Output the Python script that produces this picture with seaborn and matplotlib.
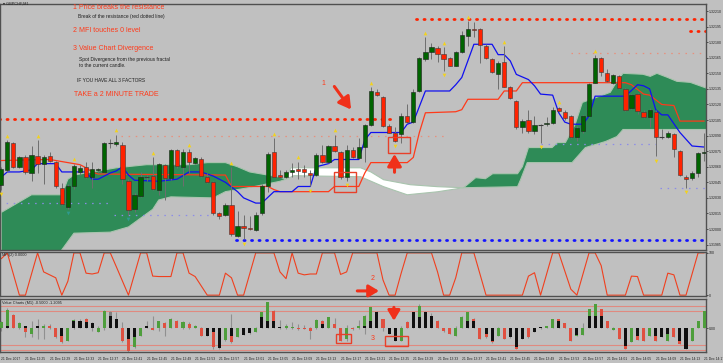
import matplotlib
matplotlib.use("Agg")
import matplotlib.pyplot as plt
import numpy as np
import pandas as pd
import seaborn as sns

# --- candles, in points above 1.32000 (1 pt = 0.00001) ---
open_pts = [42, 57, 83, 60, 69, 54, 70, 63, 70, 65, 40, 21, 41, 55, 60, 50, 57, 55, 83, 82,
            81, 46, 19, 32, 50, 51, 38, 62, 49, 76, 60, 74, 64, 67, 50, 45, 15, 14, 23, -7,
            3, 1, -1, 15, 41, 74, 52, 50, 55, 58, 58, 54, 52, 71, 65, 80, 74, 50, 76, 68,
            79, 100, 132, 127, 99, 93, 92, 109, 103, 133, 164, 171, 174, 169, 165, 157, 171, 186, 193, 193,
            176, 164, 149, 161, 137, 123, 98, 105, 94, 100, 101, 102, 117, 113, 109, 89, 94, 109, 141, 165,
            150, 141, 147, 135, 117, 130, 113, 108, 113, 89, 89, 92, 75, 50, 49, 54, 73]
high_pts = [60, 86, 84, 70, 71, 80, 86, 71, 74, 66, 44, 43, 63, 62, 65, 65, 59, 84, 87, 91,
            84, 48, 35, 55, 52, 69, 64, 63, 77, 77, 77, 77, 69, 69, 54, 46, 16, 25, 60, 17,
            14, 13, 16, 43, 74, 88, 57, 57, 64, 65, 62, 57, 73, 81, 81, 91, 75, 81, 79, 88,
            101, 137, 135, 128, 101, 98, 112, 120, 135, 166, 185, 179, 176, 175, 166, 172, 191, 200, 199, 194,
            178, 165, 162, 176, 138, 124, 106, 115, 109, 101, 108, 118, 118, 115, 110, 99, 110, 141, 168, 166,
            154, 149, 148, 136, 130, 131, 115, 117, 115, 96, 94, 93, 76, 52, 56, 74, 93]
low_pts = [38, 55, 59, 59, 53, 46, 54, 43, 65, 40, 23, 19, 39, 52, 49, 40, 54, 54, 78, 80,
           43, 14, 16, 31, 46, 38, 33, 28, 47, 59, 41, 54, 63, 50, 44, 14, 10, 13, -7, -8,
           -10, -1, -2, 14, 36, 50, 49, 49, 50, 48, 50, 41, 51, 64, 64, 74, 48, 46, 68, 67,
           65, 99, 128, 98, 93, 84, 83, 102, 102, 132, 162, 164, 161, 152, 157, 157, 170, 176, 185, 160,
           164, 150, 135, 137, 125, 96, 93, 93, 92, 83, 99, 101, 113, 105, 88, 85, 93, 108, 141, 147,
           142, 140, 135, 114, 116, 111, 107, 98, 70, 87, 88, 69, 51, 40, 47, 50, 66]
close_pts = [58, 84, 60, 69, 55, 71, 63, 69, 66, 41, 24, 41, 61, 59, 50, 58, 58, 83, 83, 84,
             48, 18, 33, 50, 50, 39, 63, 49, 76, 61, 74, 65, 68, 51, 45, 15, 13, 23, -5, 3,
             1, 0, 14, 41, 72, 50, 50, 55, 57, 56, 55, 52, 71, 65, 80, 75, 50, 76, 69, 79,
             100, 133, 129, 99, 93, 85, 109, 103, 132, 165, 171, 175, 169, 164, 157, 171, 187, 193, 192, 177,
             165, 151, 160, 137, 126, 98, 104, 94, 100, 100, 102, 115, 114, 107, 89, 97, 109, 140, 165, 151,
             143, 148, 136, 115, 129, 114, 108, 115, 89, 89, 93, 77, 52, 48, 54, 73, 74]

# Tenkan (blue) and Kijun (red) lines: (bar, pts)
blue_idx = [0, 1, 3, 5, 6, 9, 10, 14, 15, 16, 18, 19, 20, 21, 22, 26, 29, 31, 33, 35, 37, 39, 40, 42, 43,
            45, 48, 49, 51, 52, 54, 55, 59, 60, 61, 66, 67, 68, 69, 70, 74, 75, 76, 78, 81, 82, 83, 84,
            85, 87, 88, 89, 91, 92, 93, 94, 96, 97, 98, 103, 105, 106, 107, 108, 109, 110, 112, 114, 116]
blue_pts = [50, 55, 55, 57, 63, 63, 55, 55, 48, 48, 54, 56, 60, 52, 47, 46, 48, 55, 55, 51, 45, 36, 30, 25, 25,
            36, 36, 41, 41, 60, 63, 67, 67, 86, 93, 93, 101, 103, 118, 133, 133, 139, 146, 178, 178, 168, 168, 162,
            149, 144, 138, 130, 129, 112, 103, 101, 101, 109, 128, 128, 139, 138, 135, 115, 110, 110, 93, 80, 79]
red_idx = [0, 8, 10, 13, 14, 15, 16, 37, 38, 44, 45, 46, 54, 55, 59, 60, 61, 67, 68, 69, 70, 75, 76,
           77, 82, 83, 85, 86, 103, 104, 106, 107, 109, 111, 112, 116]
red_pts = [66, 67, 65, 62, 59, 55, 53, 52, 41, 41, 38, 36, 36, 41, 41, 54, 64, 64, 69, 93, 112, 113, 115,
           125, 125, 133, 133, 141, 141, 139, 130, 129, 120, 119, 104, 104]

# Kumo edges: (bar, pts)
kumo_left_top_idx = [0, 5, 10, 11, 12, 19, 24, 31, 34, 37, 39, 41, 46, 47]
kumo_left_top = [16, 33, 33, 48, 52, 59, 62, 62, 64, 64, 60, 55, 50, 48]
kumo_left_bot_idx = [47, 46, 41, 37, 35, 28, 26, 25, 21, 18, 12, 10, 9.6, 0]
kumo_left_bot = [48, 46, 40, 36, 30, 31, 28, 19, 2, -3, -4, -20, -32, -32]
kumo_white_top_idx = [47, 47.8, 59.3, 61, 63.1, 67.5, 72, 76.3]
kumo_white_top = [48, 59, 59, 55, 47.5, 42.7, 40.8, 39.8]
kumo_white_bot_idx = [76.3, 72, 68.7, 67, 63.1, 59.3, 48.3, 47]
kumo_white_bot = [39.8, 35.9, 34, 33, 40.8, 50.4, 51.4, 48]
kumo_right_top_idx = [76.3, 78.3, 79.9, 81.1, 85.2, 86, 87, 90.9, 91.8, 93.1, 94.7, 95.9, 100.5, 101.6,
                      102.6, 105.9, 107.1, 108.2, 109.9, 111.5, 113.7, 116.5]
kumo_right_top = [39.8, 49.5, 48.5, 53.3, 53.3, 60.1, 78.5, 78.5, 83.3, 83.3, 100.7, 122, 131.7, 142.3,
                  150, 149.1, 147.1, 150, 146.2, 142.3, 141.3, 135.5]
kumo_right_bot_idx = [116.5, 102.6, 101.6, 99.7, 96.4, 94.2, 86.8, 85.7, 85.2, 76.3]
kumo_right_bot = [95.9, 95.9, 89.1, 84.3, 78.5, 64, 64, 47.5, 40.8, 39.8]

# fractals
fractal_up = [1, 6, 12, 19, 25, 31, 38, 45, 49, 55, 61, 70, 73, 77, 83, 92, 98]
fractal_dn = [0, 40, 51, 57, 65, 73, 89, 108, 113]
fractal_dn_teal = [11, 21]

# dotted support / resistance levels: (pts, first bar, last bar)
lvl_red_thick = [(202.3, 68.4, 116.5), (190.7, 113.7, 116.5), (105.6, -1, 65)]
lvl_red_thin = [(90.1, 19.8, 73), (169.4, 94, 116.5)]
lvl_blue_thin = [(25.3, -1, 18), (13.7, 18.6, 35), (82.4, 89, 108), (39.8, 108.7, 116.5)]
lvl_blue_thick = [(-10.5, 38.7, 116.5)]

price_ticks = [1.31985, 1.32000, 1.32015, 1.32030, 1.32045, 1.32060, 1.32075, 1.32090,
               1.32105, 1.32120, 1.32135, 1.32150, 1.32165, 1.32180, 1.32195, 1.32210]

# MFI(2) vertices: (bar, value)
mfi_idx = [0, 1, 3, 4, 6, 7, 9, 10, 11, 12, 13, 14, 15, 16, 17, 18, 19, 21, 23, 24, 25, 26, 28, 29, 30,
           31, 32, 34, 36, 37, 38, 39, 40, 42, 45, 46, 47, 48, 49, 50, 51, 52, 53, 55, 56, 57, 58, 59, 62,
           63, 64, 65, 66, 67, 71, 72, 73, 74, 75, 76, 78, 80, 86, 87, 88, 89, 91, 92, 94, 95, 97, 98, 99,
           100, 103, 104, 105, 106, 109, 110, 111, 112, 113, 115, 116]
mfi_val = [86, 100, 0, 0, 100, 55, 41, 0, 33, 100, 100, 52, 50, 53, 100, 100, 67, 0, 100, 100, 45, 44, 44,
           100, 100, 52, 44, 0, 0, 52, 41, 0, 0, 100, 100, 55, 39, 100, 52, 48, 50, 50, 100, 100, 49, 55, 100,
           100, 100, 36, 0, 0, 52, 100, 100, 55, 0, 0, 41, 100, 100, 0, 0, 45, 53, 0, 100, 100, 14, 0, 100,
           100, 70, 0, 0, 45, 44, 0, 0, 52, 48, 0, 0, 100, 100]

# Value Chart bars: open (black), close (coloured), high, low
vc_open = [0, 0.8, 0, 0, 0.8, 0, 0.8, 0, 0, 0, -2.7, 0, 2.6, 2.6, 2.0, 1.7, 0, 0, 4.4, 3.2,
           0, -3.9, -3.3, 0, 0.8, 0, 0, 0, 0, 0, 0, 0, 0, 0, -2.7, -1.5, -7.0, 0, -2.7, 0,
           -2.4, -1.9, 0, 3.8, 2.6, 2.6, 0.5, 0, 0, 0, 0, 0, 0, 1.4, 0, 0, 0, 0, 0, 0,
           0.8, 2.6, 5.6, 0, -2.1, -4.5, 0, 0, 5.6, 3.8, 5.6, 4.4, 0, 0, 0, 0, 0, 2.6, 2.6, 0,
           -2.1, -4.5, 0, 0, -3.3, -6.9, -3.9, 0, -1.5, 0.2, 0, 0, 2.6, 0, 0, -2.4, 0, 4.4, 4.4, 4.4,
           0, 0, 0, -6.3, 0, -2.7, 0, 0, -2.7, -3.3, -2.1, 0, -4.5, -7.5, 0, 0, 0]
vc_close = [2.0, 6.4, 4.8, 1.7, -1.5, -2.1, 0.4, 0.8, 0.8, -3.3, -5.1, -4.5, 3.0, 2.0, 3.2, 1.5, -1.5, 6.2, 5.6, 2.5,
            -4.5, -8.1, -6.9, -2.7, 0.4, -0.7, 2.6, 1.7, 3.2, 2.6, 2.0, 1.4, 0.8, -2.7, -1.0, -6.9, -5.0, -4.3, -5.1, -3.3,
            -1.5, -1.0, -1.5, 5.6, 9.2, 6.2, 0.3, 0.8, 0.2, -0.4, -0.4, -1.0, 3.0, 2.6, 3.8, 1.4, -4.5, -3.9, -0.5, 0.8,
            4.4, 7.4, 4.0, 3.2, -1.9, -3.0, -4.5, 2.0, 4.0, 8.0, 4.0, 3.0, 2.6, -1.0, -2.1, -2.7, 4.0, 5.6, 3.2, -3.9,
            -3.3, -5.1, -2.7, -3.9, -2.0, -7.5, -2.5, -3.3, -1.0, 0, 0.8, 3.2, 3.2, 1.7, -4.5, -2.7, -2.4, 6.8, 8.6, 6.8,
            2.6, -0.7, -3.9, -7.5, -5.1, -4.3, -4.5, -2.7, -4.5, -2.0, -4.5, -3.3, -5.7, -6.0, -4.5, 2.6, 6.2]
vc_high = [2.6, 7.0, 5.2, 2.0, 0.8, 2.6, 3.2, 1.4, 1.4, 0, -2.2, -0.4, 3.2, 3.2, 3.5, 2.0, 0.8, 6.6, 6.2, 5.6,
           2.0, -0.4, -0.4, -0.4, 2.6, 4.4, 2.6, 2.0, 3.5, 2.8, 2.6, 2.0, 1.0, 0.5, 0, -0.4, -0.4, 0, 5.2, 0,
           0, 0, 0.5, 5.6, 9.2, 6.5, 3.0, 1.5, 2.0, 1.5, 1.0, 0.5, 3.2, 3.0, 4.0, 3.5, 0, 1.0, 0.5, 3.0,
           4.5, 7.5, 6.0, 3.2, 0, 0, 0.8, 2.6, 5.6, 8.6, 6.0, 5.5, 3.0, 0, 0, 0.8, 4.4, 5.6, 3.5, 0,
           0, 0, 0.5, 0, 0, 0, 0, 0, 0, 0.5, 0.8, 3.2, 3.2, 1.7, 0, 0, 1.7, 6.8, 8.6, 6.8,
           2.6, 0.5, 0, 0, 0, 0, 0, 0, 0, 0, 0, 0, 0, 0, 0, 2.6, 6.2]
vc_low = [-1.0, 0, 0, -0.4, -3.3, -3.3, -3.9, -3.9, -0.4, -3.5, -5.5, -4.8, -0.2, 0, 0, -1.0, -1.5, -0.7, 0, 0,
          -5.1, -8.5, -7.0, -2.7, 0, -0.7, -1.0, -3.0, 0, 0.5, -0.5, -0.5, 0, -2.7, -3.0, -7.5, -7.5, -4.5, -5.5, -3.3,
          -2.4, -2.0, -1.5, 0, 0, 0, -0.5, -0.4, -0.4, -0.6, -0.5, -3.9, -0.3, 0, 0, 0, -4.8, -4.5, -0.8, -0.4,
          -2.0, 0, 0, -1.0, -2.1, -4.5, -4.8, 0, 0, 0, 0, 0, 0, -1.5, -2.1, -2.7, 0, 0, 0, -3.9,
          -3.5, -5.5, -3.0, -4.0, -3.5, -7.5, -4.0, -3.5, -1.5, -0.5, 0, 0, 0, 0, -4.5, -2.7, -2.4, 0, 0, 0,
          0, -0.7, -3.9, -7.5, -5.1, -4.3, -4.5, -2.7, -4.5, -3.3, -4.5, -3.3, -5.7, -7.5, -4.5, 0, 0]
vc_levels = [8, 6, -6, -8]

time_labels = ["21 Dec 2017", "21 Dec 12:25", "21 Dec 12:29", "21 Dec 12:33", "21 Dec 12:37",
               "21 Dec 12:41", "21 Dec 12:45", "21 Dec 12:49", "21 Dec 12:53", "21 Dec 12:57",
               "21 Dec 13:01", "21 Dec 13:05", "21 Dec 13:09", "21 Dec 13:13", "21 Dec 13:17",
               "21 Dec 13:21", "21 Dec 13:25", "21 Dec 13:29", "21 Dec 13:33", "21 Dec 13:37",
               "21 Dec 13:41", "21 Dec 13:45", "21 Dec 13:49", "21 Dec 13:53", "21 Dec 13:57",
               "21 Dec 14:01", "21 Dec 14:05", "21 Dec 14:09", "21 Dec 14:13", "21 Dec 14:17"]

# --- styling ---
BG = '#C0C0C0'
GREEN = '#006400'
RED = '#FF2200'
TXT_RED = '#FF3A1A'
BASE = 1.32

sns.set_theme(style="white")
plt.rcParams['font.family'] = ['Liberation Sans', 'DejaVu Sans']


def px(v):
    return BASE + np.asarray(v, dtype=float) / 1e5


df = pd.DataFrame({'o': px(open_pts), 'h': px(high_pts), 'l': px(low_pts), 'c': px(close_pts)})
df['i'] = np.arange(len(df))
n = len(df)

fig = plt.figure(figsize=(7.23, 3.63), dpi=100)
fig.patch.set_facecolor(BG)
W, H = 723.0, 363.0
ax = fig.add_axes([0, 1 - 250 / H, 706 / W, 246 / H])
ax_mfi = fig.add_axes([0, 1 - 296 / H, 706 / W, 44 / H])
ax_vc = fig.add_axes([0, 1 - 352 / H, 706 / W, 53 / H])

for a in (ax, ax_mfi, ax_vc):
    a.set_facecolor(BG)
    a.set_xlim(-0.2, 116.3)
    for s in a.spines.values():
        s.set_color('#505050')
        s.set_linewidth(1.0)
    a.yaxis.tick_right()
    a.tick_params(axis='y', labelsize=2.5, length=1.5, width=0.5, pad=0.6, colors='#202020')
    a.tick_params(axis='x', length=0)
    a.set_xticks([])
    a.grid(False)

# --- main chart ---
ax.set_ylim(px(-20.2), px(216.8))
ax.set_yticks(price_ticks)
ax.set_yticklabels([f"{p:.5f}" for p in price_ticks])

ax.fill(kumo_left_top_idx + kumo_left_bot_idx, list(px(kumo_left_top)) + list(px(kumo_left_bot)),
        color='#2E8B57', ec='#A9C4AE', lw=0.8, zorder=1)
ax.fill(kumo_white_top_idx + kumo_white_bot_idx, list(px(kumo_white_top)) + list(px(kumo_white_bot)),
        color='white', ec='#A9C4AE', lw=0.8, zorder=1)
ax.fill(kumo_right_top_idx + kumo_right_bot_idx, list(px(kumo_right_top)) + list(px(kumo_right_bot)),
        color='#2E8B57', ec='#A9C4AE', lw=0.8, zorder=1)

for lvl, x0, x1 in lvl_red_thick:
    ax.plot([x0, x1], [px(lvl)] * 2, color=RED, lw=2.0, dashes=(0.4, 2.3), dash_capstyle='round', zorder=2)
for lvl, x0, x1 in lvl_red_thin:
    ax.plot([x0, x1], [px(lvl)] * 2, color='#E8907C', lw=0.9, dashes=(1.2, 4.5), zorder=2)
for lvl, x0, x1 in lvl_blue_thin:
    ax.plot([x0, x1], [px(lvl)] * 2, color='#8C8CE8', lw=0.9, dashes=(1.2, 4.5), zorder=2)
for lvl, x0, x1 in lvl_blue_thick:
    ax.plot([x0, x1], [px(lvl)] * 2, color='#1414FF', lw=2.0, dashes=(0.4, 2.3), dash_capstyle='round', zorder=2)

sns.lineplot(x=red_idx, y=px(red_pts), ax=ax, color='#FF3A1A', lw=0.9, zorder=3)
sns.lineplot(x=blue_idx, y=px(blue_pts), ax=ax, color='#1010F0', lw=0.9, zorder=3)

up = df['c'] > df['o']
dn = df['c'] < df['o']
ax.vlines(df['i'], df['l'], df['h'], color='#6E6E6E', lw=0.7, zorder=4)
body = (df['c'] - df['o']).abs().clip(lower=0.000007)
bottom = df[['o', 'c']].min(axis=1)
ax.bar(df['i'][up], body[up], bottom=bottom[up], width=0.7, color=GREEN, edgecolor='#1E1E1E', lw=0.4, zorder=5)
ax.bar(df['i'][dn], body[dn], bottom=bottom[dn], width=0.7, color=RED, edgecolor='#3A3A3A', lw=0.4, zorder=5)
flat = ~(up | dn)
ax.hlines(df['c'][flat], df['i'][flat] - 0.4, df['i'][flat] + 0.4, color='#3A3A3A', lw=0.8, zorder=5)

ax.scatter(fractal_up, df['h'].iloc[fractal_up] + 0.00004, marker='^', s=7, color='#F2D21E', lw=0, zorder=6)
ax.scatter(fractal_dn, df['l'].iloc[fractal_dn] - 0.00004, marker='v', s=7, color='#F2D21E', lw=0, zorder=6)
ax.scatter(fractal_dn_teal, df['l'].iloc[fractal_dn_teal] - 0.00004, marker='v', s=7, color='#2E9A8E', lw=0, zorder=6)

# annotations on the price chart
ax.add_patch(plt.Rectangle((54.9, px(36)), 3.7, 0.00019, fill=False, ec='#E8402A', lw=1.0, zorder=7))
ax.add_patch(plt.Rectangle((63.9, px(73.6)), 3.5, 0.000155, fill=False, ec='#E8402A', lw=1.0, zorder=7))
ax.annotate('', xy=(58.0, px(113)), xytext=(54.7, px(139.5)),
            arrowprops=dict(arrowstyle='-|>,head_width=0.35,head_length=0.6', color='#F0301A', lw=2.2), zorder=7)
ax.annotate('', xy=(64.9, px(75)), xytext=(64.9, px(52)),
            arrowprops=dict(arrowstyle='-|>,head_width=0.35,head_length=0.6', color='#F0301A', lw=2.2), zorder=7)
ax.text(53.2, px(140), '1', color=TXT_RED, fontsize=5, ha='center', va='center', zorder=7)

# --- MFI ---
ax_mfi.set_ylim(-2, 102)
ax_mfi.set_yticks([0, 100])
ax_mfi.set_yticklabels(['0', '100'])
sns.lineplot(x=mfi_idx, y=mfi_val, ax=ax_mfi, color='#F0401E', lw=0.8)
ax_mfi.set_xlabel('')
ax_mfi.set_ylabel('')
ax_mfi.annotate('', xy=(62.8, 10), xytext=(58.3, 10),
                arrowprops=dict(arrowstyle='-|>,head_width=0.3,head_length=0.5', color='#F0301A', lw=2.2))
ax_mfi.text(61.3, 40, '2', color=TXT_RED, fontsize=5, ha='center', va='center')
ax_mfi.text(0.003, 0.97, 'MFI(2) 0.0000', transform=ax_mfi.transAxes, fontsize=2.8, va='top', color='#202020')

# --- Value Chart ---
ax_vc.set_ylim(-8.6, 10.4)
ax_vc.set_yticks([0])
ax_vc.set_yticklabels(['0.00'])
for lv in vc_levels:
    ax_vc.axhline(lv, color='#E08A80', lw=0.8, zorder=1)
vc_col = np.where(up, '#4E9E3C', np.where(dn, '#E05040', '#808080'))
ax_vc.vlines(df['i'], vc_low, vc_high, color='#909090', lw=0.8, zorder=2)
ax_vc.bar(df['i'], vc_close, width=0.5, color=vc_col, lw=0, zorder=3)
ax_vc.bar(df['i'], vc_open, width=0.5, color='#101010', lw=0, zorder=4)
ax_vc.add_patch(plt.Rectangle((55.2, -5.4), 2.5, 3.3, fill=False, ec='#E8402A', lw=1.0, zorder=5))
ax_vc.add_patch(plt.Rectangle((63.4, -6.4), 3.8, 3.5, fill=False, ec='#E8402A', lw=1.0, zorder=5))
ax_vc.annotate('', xy=(64.8, 1.6), xytext=(64.8, 8.4),
               arrowprops=dict(arrowstyle='-|>,head_width=0.3,head_length=0.5', color='#F0301A', lw=2.2), zorder=5)
ax_vc.text(61.3, -3.9, '3', color=TXT_RED, fontsize=5, ha='center', va='center')
ax_vc.text(0.003, 0.97, 'Value Charts (M1) -0.5000 -1.2095', transform=ax_vc.transAxes,
           fontsize=2.8, va='top', color='#202020')
ax_vc.set_xticks(range(0, n, 4))
ax_vc.set_xticklabels(time_labels, fontsize=2.4, ha='left', color='#202020')
ax_vc.tick_params(axis='x', length=2, width=0.5, pad=1.5)

# --- text block ---
def ftxt(x, y, s, size, color):
    fig.text(x / W, 1 - y / H, s, fontsize=size, color=color, va='center', ha='left')


ftxt(3, 4, '\u25be GBPCHF,M1', 2.8, '#202020')
ftxt(73, 7.5, '1 Price breaks the resistance', 5.0, TXT_RED)
ftxt(78, 16.5, 'Break of the resistance (red dotted line)', 3.5, '#202020')
ftxt(73, 31, '2 MFI touches 0 level', 5.0, TXT_RED)
ftxt(73, 48, '3 Value Chart Divergence', 5.0, TXT_RED)
ftxt(79, 59, 'Spot Divergence from the previous fractal', 3.5, '#202020')
ftxt(79, 65.5, 'to the current candle.', 3.5, '#202020')
ftxt(77, 81, 'IF YOU HAVE ALL 3 FACTORS', 3.5, '#202020')
ftxt(74, 94, 'TAKE a 2 MINUTE TRADE', 5.0, TXT_RED)

fig.savefig('out.png', dpi=100, facecolor=BG)
